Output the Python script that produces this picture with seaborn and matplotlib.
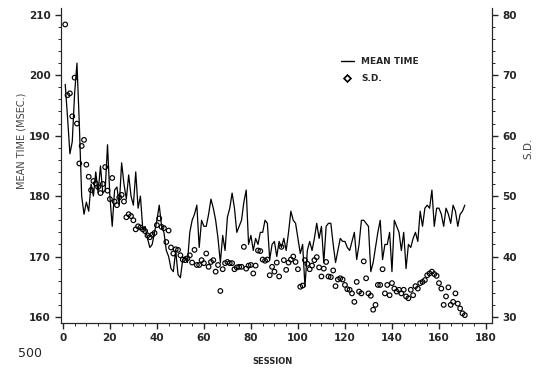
import numpy as np
import matplotlib
matplotlib.use("Agg")
import matplotlib.pyplot as plt
import seaborn as sns
import pandas as pd
from matplotlib.ticker import MultipleLocator
from matplotlib.lines import Line2D

mean_time = [
    198.5, 193, 187, 189, 197, 202, 192, 180, 177, 179,
    177.5, 182, 180, 184, 180.5, 185, 180.5, 181, 188.5, 180,
    175, 181, 181.5, 178.5, 185.5, 182, 179.5, 183.5, 180, 178.5,
    184, 178, 180, 174.5, 175, 173, 171.5, 172, 174, 176,
    178.5, 175, 174, 171, 170, 168, 167.5, 171, 167, 166.5,
    169.5, 170, 169, 174, 176, 177, 178.5, 171.5, 176, 175,
    175, 177, 179.5, 178, 176, 173, 169, 173.5, 171, 176.5,
    178, 180.5, 178, 174, 175, 176, 179, 181, 172, 173.5,
    171, 173, 172, 174, 174, 176, 175.5, 169.5, 172, 172.5,
    170, 172.5, 171.5, 173, 171, 174, 177.5, 176, 175.5, 173,
    170.5, 172, 165, 171, 172.5, 171, 173, 175.5, 173, 175,
    169, 175, 175.5, 175.5, 172, 169, 171, 173, 172.5, 172.5,
    171.5, 171, 172.5, 174, 169.5, 172, 176, 176, 175.5, 175,
    167.5, 169, 171.5, 174, 176, 169.5, 172, 172, 174, 167.5,
    176, 175, 174, 171, 174, 168, 172, 171.5, 173, 174,
    172.5, 177.5, 175, 178, 178.5, 178, 181, 175, 178, 178,
    177, 175, 178, 177, 175.5, 178.5, 177.5, 175, 177, 177.5,
    178.5,
]

sd = [
    78.4, 66.7, 67, 63.2, 69.6, 62, 55.4, 58.3, 59.3, 55.2,
    53.2, 51, 52.5, 52.1, 51.5, 50.5, 52, 54.8, 50.9, 49.5,
    53, 49.1, 48.5, 49.8, 50.2, 49.1, 46.5, 47, 46.7, 46,
    44.5, 45, 44.8, 44.5, 44.2, 43.5, 43.2, 43.6, 43.9, 45.2,
    46.3, 44.9, 44.7, 42.4, 44.3, 41.5, 40.5, 41.2, 41.1, 40.2,
    39.5, 39.4, 39.7, 40.2, 39, 41.1, 38.6, 38.6, 39.4, 38.9,
    40.5, 38.3, 39.1, 39.4, 37.5, 38.6, 34.3, 37.9, 38.9, 39.1,
    38.9, 38.9, 37.9, 38.2, 38.3, 38.3, 41.6, 38, 38.5, 38.6,
    37.2, 38.5, 41, 40.9, 39.5, 39.3, 39.5, 36.9, 38.3, 37.5,
    39, 36.7, 41.6, 39.4, 37.8, 39, 39.5, 40, 39.1, 37.9,
    35, 35.2, 39.4, 38.8, 37.9, 38.5, 39.4, 39.9, 38.2, 36.7,
    38, 39.1, 36.7, 36.6, 37.7, 35.1, 36.2, 36.4, 36.2, 35.3,
    34.6, 34.5, 33.9, 32.5, 35.8, 34.2, 33.9, 39.2, 36.4, 33.9,
    33.5, 31.2, 32, 35.3, 35.3, 37.9, 33.9, 35.3, 33.6, 35.6,
    34.7, 34.2, 34.5, 33.9, 34.5, 33.4, 33.1, 34.5, 33.6, 35.1,
    34.7, 35.6, 35.8, 36.1, 36.9, 37.2, 37.5, 37.1, 36.8, 35.6,
    34.7, 32, 33.4, 34.9, 32, 32.5, 33.9, 32.2, 31.4, 30.6,
    30.3,
]

sessions = list(range(1, len(mean_time) + 1))
df = pd.DataFrame({"session": sessions, "mean_time": mean_time, "sd": sd})

sns.set_style("ticks")
plt.rcParams["font.family"] = ["DejaVu Sans"]

fig = plt.figure(figsize=(5.42, 3.70), dpi=100)
ax = fig.add_axes([0.1125, 0.127, 0.795, 0.851])
ax2 = ax.twinx()

sns.lineplot(data=df, x="session", y="mean_time", ax=ax, color="black", lw=0.9)
sns.scatterplot(data=df, x="session", y="sd", ax=ax2, marker="o", s=11,
                facecolor="none", edgecolor="black", linewidth=0.85)

ax.set_xlim(-0.8, 182.5)
ax.set_ylim(159.0, 211.1)
ax2.set_ylim(29.0, 81.1)

ax.set_xticks(range(0, 181, 20))
ax.xaxis.set_minor_locator(MultipleLocator(5))
ax.set_yticks(range(160, 211, 10))
ax.yaxis.set_minor_locator(MultipleLocator(2))
ax2.set_yticks(range(30, 81, 10))
ax2.yaxis.set_minor_locator(MultipleLocator(2))

for a in (ax, ax2):
    a.spines["top"].set_visible(False)
    a.tick_params(which="major", length=4, width=1, labelsize=7.5)
    a.tick_params(which="minor", length=2, width=0.7)
    for lab in a.get_xticklabels() + a.get_yticklabels():
        lab.set_fontweight("bold")

ax.set_xlabel("")
ax.set_ylabel("")
ax2.set_ylabel("")

fig.text(0.04, 0.62, "MEAN TIME (MSEC.)", rotation=90, ha="center", va="center",
         fontsize=7, color="#444444")
fig.text(0.975, 0.60, "S.D.", rotation=90, ha="center", va="center",
         fontsize=7.5, color="#444444")
fig.text(0.502, 0.022, "SESSION", ha="center", va="center", fontsize=6,
         fontweight="bold")
fig.text(0.055, 0.045, "500", ha="center", va="center", fontsize=9)

handles = [Line2D([], [], color="black", lw=1.0),
           Line2D([], [], color="black", marker="D", ls="none", markersize=3.5,
                  markerfacecolor="none", markeredgewidth=1.2)]
leg = ax.legend(handles, ["MEAN TIME", "S.D."], loc="upper left",
                bbox_to_anchor=(0.63, 0.87), frameon=False, handlelength=1.5,
                prop={"size": 6.5, "weight": "bold"}, labelspacing=0.9)

fig.savefig("out.png", dpi=100)
